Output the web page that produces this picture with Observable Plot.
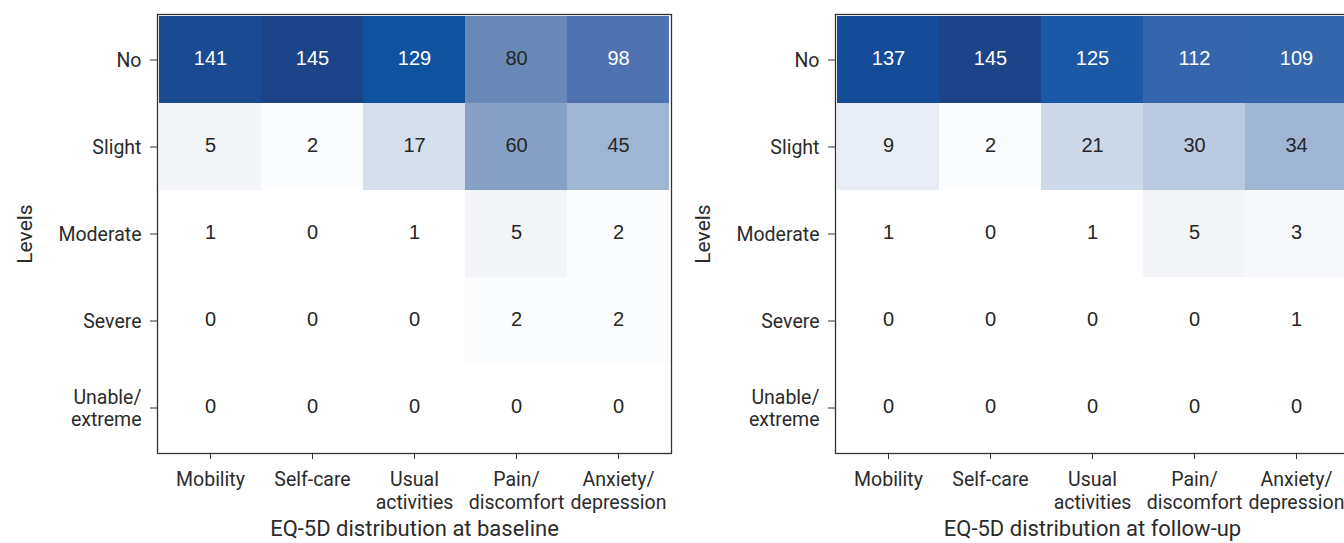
<!DOCTYPE html>
<html>
<head>
<meta charset="utf-8">
<script src="https://cdn.jsdelivr.net/npm/d3@7"></script>
<script src="https://cdn.jsdelivr.net/npm/@observablehq/plot@0.6"></script>
<style>
  html, body { margin: 0; padding: 0; background: #fff; overflow: hidden; }
  #wrap { display: flex; width: 1360px; }
  #wrap svg { flex: none; }
</style>
</head>
<body>
<div id="wrap"></div>
<script>
const dims = ["Mobility", "Self-care", "Usual activities", "Pain/discomfort", "Anxiety/depression"];
const xTickLabels = ["Mobility", "Self-care", "Usual\nactivities", "Pain/\ndiscomfort", "Anxiety/\ndepression"];
const levels = ["No", "Slight", "Moderate", "Severe", "Unable/extreme"];
const yTickLabels = ["No", "Slight", "Moderate", "Severe", "Unable/\nextreme"];

// values per dimension, ordered by level (No, Slight, Moderate, Severe, Unable/extreme)
const baselineMobility = [141, 5, 1, 0, 0];
const baselineSelfCare = [145, 2, 0, 0, 0];
const baselineUsual    = [129, 17, 1, 0, 0];
const baselinePain     = [80, 60, 5, 2, 0];
const baselineAnxiety  = [98, 45, 2, 2, 0];

const followMobility = [137, 9, 1, 0, 0];
const followSelfCare = [145, 2, 0, 0, 0];
const followUsual    = [125, 21, 1, 0, 0];
const followPain     = [112, 30, 5, 0, 0];
const followAnxiety  = [109, 34, 3, 1, 0];

const baselineTitle = "EQ-5D distribution at baseline";
const followTitle = "EQ-5D distribution at follow-up";
const yTitle = "Levels";

// colour scale stops (style)
const baseColorDomain = [0, 1, 2, 5, 17, 45, 60, 80, 98, 129, 141, 145];
const baseColorRange  = ["#ffffff", "#ffffff", "#fbfcfe", "#f3f5f9", "#d6e0ec", "#a0b4d4", "#86a0c8", "#6888b8", "#4f72b0", "#0f52a0", "#1a4a92", "#1c4488"];
const followColorDomain = [0, 1, 2, 3, 5, 9, 21, 30, 34, 109, 112, 125, 137, 145];
const followColorRange  = ["#ffffff", "#ffffff", "#fbfcfe", "#f7f8fc", "#f3f5f9", "#e8edf5", "#cdd9e8", "#bccae0", "#a0b4d4", "#3466ac", "#3465ad", "#1b58a6", "#154c9a", "#1c4488"];

function heat(columns, title, cDomain, cRange) {
  const data = [];
  dims.forEach((d, i) => levels.forEach((l, j) => data.push({dim: d, level: l, value: columns[i][j]})));
  return Plot.plot({
    width: 678, height: 543,
    marginLeft: 157, marginRight: 7, marginTop: 14, marginBottom: 90,
    style: {fontFamily: "Roboto, sans-serif", fontSize: "18px", color: "#2b2b2b", background: "#fff"},
    x: {domain: dims, padding: 0, label: null},
    y: {domain: levels, padding: 0, label: null},
    color: {type: "linear", domain: cDomain, range: cRange, interpolate: "rgb"},
    marks: [
      Plot.cell(data, {x: "dim", y: "level", fill: "value", inset: 0}),
      Plot.text(data, {x: "dim", y: "level", text: d => String(d.value), dy: -1,
        fill: d => d.value > 90 ? "#ffffff" : "#262626",
        fontFamily: "'Liberation Sans', Arial, sans-serif", fontSize: 20}),
      Plot.frame({stroke: "#333", strokeWidth: 1.3}),
      Plot.axisX({tickSize: 6, tickPadding: 11, lineHeight: 1.15, fontSize: 19.5,
        tickFormat: d => xTickLabels[dims.indexOf(d)], label: null, stroke: "#333"}),
      Plot.axisY({tickSize: 7, tickPadding: 9, lineHeight: 1.15, fontSize: 19.5, dy: 0,
        tickFormat: d => yTickLabels[levels.indexOf(d)], label: null, stroke: "#333"}),
      Plot.text([title], {frameAnchor: "bottom", dy: 82, fontSize: 22, fill: "#2b2b2b"}),
      Plot.text([yTitle], {frameAnchor: "left", textAnchor: "middle", dx: -132, rotate: -90, fontSize: 21, fill: "#2b2b2b"})
    ]
  });
}

const wrap = document.getElementById("wrap");
wrap.append(heat([baselineMobility, baselineSelfCare, baselineUsual, baselinePain, baselineAnxiety], baselineTitle, baseColorDomain, baseColorRange));
wrap.append(heat([followMobility, followSelfCare, followUsual, followPain, followAnxiety], followTitle, followColorDomain, followColorRange));
</script>
</body>
</html>
